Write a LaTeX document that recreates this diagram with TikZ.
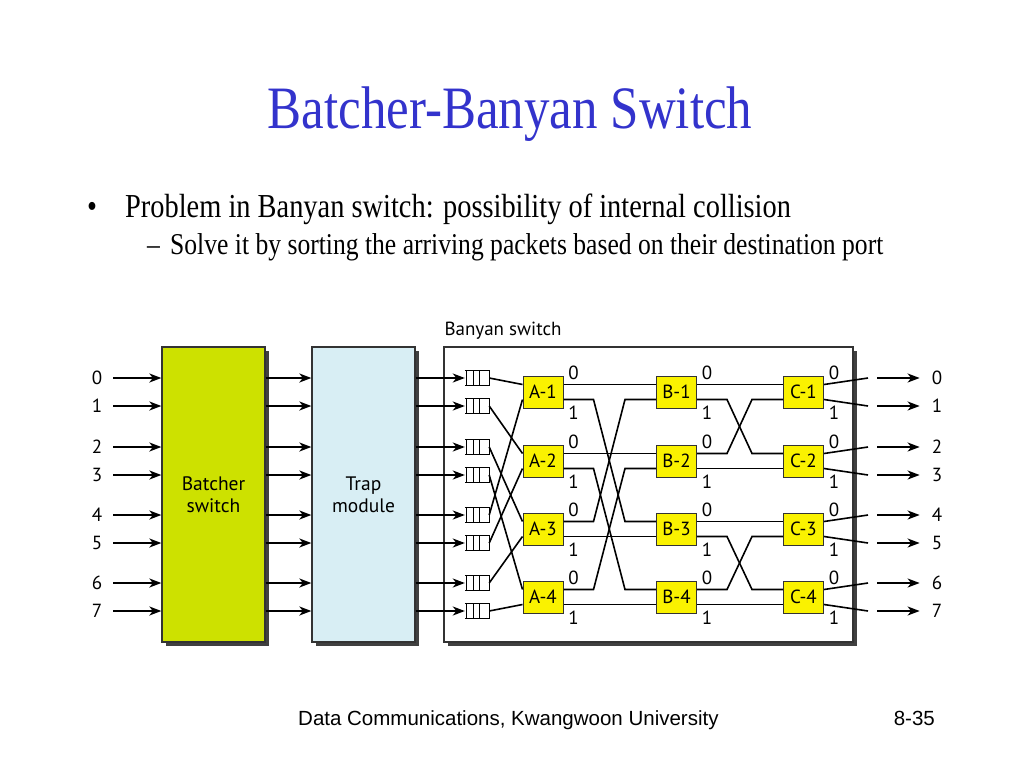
\documentclass[tikz,border=0pt]{standalone}
\usepackage{fontspec}
\setmainfont{Liberation Serif}
\newfontfamily\figfont{PT Sans}
\newfontfamily\footfont{Liberation Sans}
\usetikzlibrary{positioning,calc,arrows.meta,shadows}

\definecolor{titleblue}{RGB}{51,51,204}
\definecolor{batchergreen}{RGB}{205,225,0}
\definecolor{trapblue}{RGB}{216,238,244}
\definecolor{swyellow}{RGB}{250,242,0}

\tikzset{
  bigbox/.style={draw=black!80, line width=1.3pt, minimum width=103pt, minimum height=295pt,
    inner sep=0pt, align=center, font=\figfont\fontsize{19.5}{22}\selectfont,
    drop shadow={shadow xshift=4pt, shadow yshift=-4pt, fill=black!75, opacity=1}},
  sw/.style={draw=black!80, fill=swyellow, line width=1pt, minimum width=40pt,
    minimum height=32pt, inner sep=0pt, font=\figfont\fontsize{19}{21}\selectfont},
  port/.style={inner sep=0pt, font=\figfont\fontsize{19}{21}\selectfont},
  queue/.style={minimum width=24pt, minimum height=14pt, inner sep=0pt},
  arr/.style={line width=1.8pt, -{Stealth[length=12pt,width=9pt,inset=3.5pt]}},
  wire/.style={line width=1.6pt}
}

\begin{document}
\begin{tikzpicture}[x=1pt,y=-1pt]
\path[use as bounding box, fill=white] (0,0) rectangle (1024,768);

% Title and bullets
\node[anchor=base, text=titleblue, font={\fontsize{51}{55}\selectfont}] (title) at (510,128)
  {\scalebox{1}[1.18]{Batcher-Banyan Switch}};
\node[anchor=base west, inner sep=0pt, font={\fontsize{28.4}{32}\selectfont}] (bullet) at (87,217) {\scalebox{1}[1.18]{•}};
\node[anchor=base west, inner sep=0pt, font={\fontsize{28.4}{32}\selectfont}] (line1) at (125,217)
  {\scalebox{1}[1.18]{Problem in Banyan switch: possibility of internal collision}};
\node[anchor=base west, inner sep=0pt, font={\fontsize{25.6}{29}\selectfont}] (dash) at (147,254) {\scalebox{1}[1.18]{–}};
\node[anchor=base west, inner sep=0pt, font={\fontsize{25.6}{29}\selectfont}] (line2) at (170,254)
  {\scalebox{1}[1.18]{Solve it by sorting the arriving packets based on their destination port}};

% Footer
\node[anchor=base west, inner sep=0pt, font={\footfont\fontsize{20.5}{24}\selectfont}] (footer) at (298,725)
  {Data Communications, Kwangwoon University};
\node[anchor=base east, inner sep=0pt, font={\footfont\fontsize{20.5}{24}\selectfont}] (pageno) at (935,725) {8-35};

% Big boxes
\node[bigbox, fill=batchergreen] (batcher) at (213.5,494.5) {Batcher\\switch};
\node[bigbox, fill=trapblue] (trap) at (363.5,494.5) {Trap\\module};
\node[bigbox, fill=white, minimum width=409pt] (banyan) at (648.5,494.5) {};
\node[port, anchor=base west] (banyanlbl) at ($(banyan.north west)+(1,-11)$) {Banyan switch};

% Inputs, queues and outputs
\foreach \i/\y in {0/378,1/406,2/447,3/475,4/515,5/543,6/583,7/611} {
  \node[port] (in\i) at (97,\y) {\i};
  \node[port] (out\i) at (937,\y) {\i};
  \node[queue] (q\i) at (477,\y) {};
  \coordinate (s\i) at (868,\y);
  \draw[arr, shorten <=11pt] (in\i.east) -- (batcher.west |- in\i);
  \draw[arr] (batcher.east |- in\i) -- (trap.west |- in\i);
  \draw[arr] (trap.east |- in\i) -- (q\i.west);
  \draw[arr, shorten <=9pt, shorten >=12pt] (s\i) -- (out\i.west);
  \draw[line width=0.9pt] (q\i.north west) -| (q\i.south east) -- (q\i.south west);
  \foreach \f in {0.08,0.35,0.62}
    \draw[line width=0.9pt] ($(q\i.north west)!\f!(q\i.north east)$) -- ($(q\i.south west)!\f!(q\i.south east)$);
}

% Switching elements
\foreach \c/\x in {A/543,B/676.5,C/803.5}
  \foreach \k/\y in {1/392,2/461,3/529,4/597} {
    \node[sw] (\c\k) at (\x,\y) {\c-\k};
    \coordinate (\c\k-i0) at ($(\c\k.west)+(0,-7.5)$);
    \coordinate (\c\k-i1) at ($(\c\k.west)+(0,7.5)$);
    \coordinate (\c\k-o0) at ($(\c\k.east)+(0,-7.5)$);
    \coordinate (\c\k-o1) at ($(\c\k.east)+(0,7.5)$);
    \node[port] (\c\k-l0) at ($(\c\k.east)+(10,-19)$) {0};
    \node[port] (\c\k-l1) at ($(\c\k.east)+(10,21)$) {1};
  }

% Queues to first stage
\foreach \i/\k in {0/1,1/2,2/3,3/4} \draw[wire] (q\i.east) -- (A\k-i0);
\foreach \i/\k in {4/1,5/2,6/3,7/4} \draw[wire] (q\i.east) -- (A\k-i1);

% First stage to second stage
\draw[wire] (A1-o0) -- (B1-i0);
\draw[wire] (A2-o0) -- (B2-i0);
\draw[wire] (A3-o1) -- (B3-i1);
\draw[wire] (A4-o1) -- (B4-i1);
\foreach \a/\b in {A1-o1/B3-i0, A2-o1/B4-i0, A3-o0/B1-i1, A4-o0/B2-i1}
  \draw[wire] (\a) -- ++(30,0) -- ($(\b)+(-31,0)$) -- (\b);

% Second stage to third stage
\draw[wire] (B1-o0) -- (C1-i0);
\draw[wire] (B2-o1) -- (C2-i1);
\draw[wire] (B3-o0) -- (C3-i0);
\draw[wire] (B4-o1) -- (C4-i1);
\foreach \a/\b in {B1-o1/C2-i0, B2-o0/C1-i1, B3-o1/C4-i0, B4-o0/C3-i1}
  \draw[wire] (\a) -- ++(30,0) -- ($(\b)+(-31,0)$) -- (\b);

% Third stage to outputs
\foreach \k/\a/\b in {1/0/1,2/2/3,3/4/5,4/6/7} {
  \draw[wire] (C\k-o0) -- (s\a);
  \draw[wire] (C\k-o1) -- (s\b);
}
\end{tikzpicture}
\end{document}
